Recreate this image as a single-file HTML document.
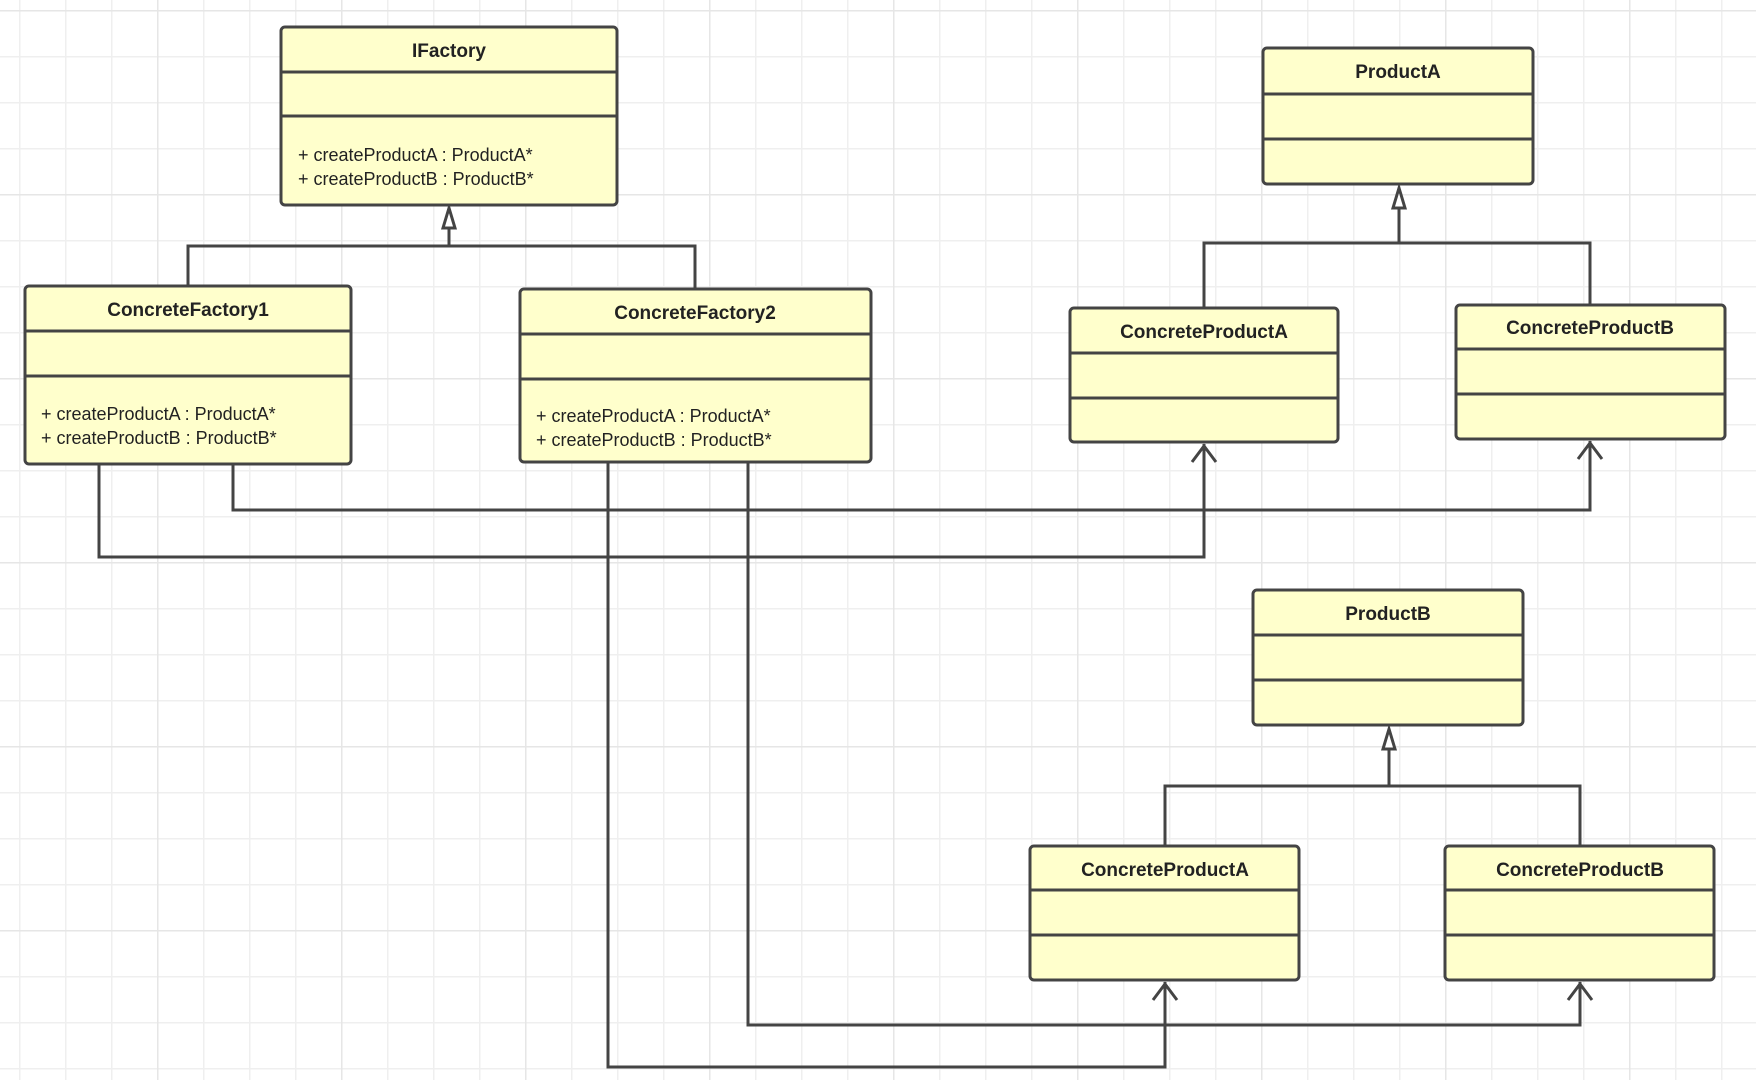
<!DOCTYPE html>
<html><head><meta charset="utf-8"><style>
html,body{margin:0;padding:0;background:#fff}
svg{display:block}
text{font-family:"Liberation Sans",sans-serif;fill:#222}
.t{font-weight:bold;font-size:19px;text-anchor:middle}
.m{font-size:18px}
</style></head><body>
<svg width="1756" height="1080" viewBox="0 0 1756 1080" xmlns="http://www.w3.org/2000/svg">
<defs>
<pattern id="g" x="19" y="10" width="46" height="46" patternUnits="userSpaceOnUse">
<path d="M0 0V46M0 0H46" stroke="#efefef" stroke-width="3" fill="none"/>
</pattern>
<pattern id="G" x="157" y="10" width="184" height="184" patternUnits="userSpaceOnUse">
<path d="M0 0V184M0 0H184" stroke="#e6e6e6" stroke-width="3" fill="none"/>
</pattern>
</defs>
<rect width="1756" height="1080" fill="url(#g)"/>
<rect width="1756" height="1080" fill="url(#G)"/>
<g stroke="#444" stroke-width="3" fill="none">
<!-- inheritance -->
<path d="M188 286V246H695V289M449 246V210"/>
<path d="M1204 308V243H1590V305M1399 243V191"/>
<path d="M1165 846V786H1580V846M1389 786V732"/>
<!-- dependencies -->
<path d="M99 464V557H1204V444"/>
<path d="M233 464V510H1590V441"/>
<path d="M608 462V1067H1165V982"/>
<path d="M748 462V1025H1580V982"/>
<path d="M1192 462L1204 446L1216 462M1578 459L1590 443L1602 459M1153 1000L1165 984L1177 1000M1568 1000L1580 984L1592 1000"/>
</g>
<g stroke="#444" stroke-width="3" fill="#fff">
<path d="M449 208L443 228H455Z"/>
<path d="M1399 188L1393 208H1405Z"/>
<path d="M1389 729L1383 749H1395Z"/>
</g>
<g stroke="#444" stroke-width="3" fill="#ffffcc">
<rect x="281" y="27" width="336" height="178" rx="4"/>
<rect x="25" y="286" width="326" height="178" rx="4"/>
<rect x="520" y="289" width="351" height="173" rx="4"/>
<rect x="1263" y="48" width="270" height="136" rx="4"/>
<rect x="1070" y="308" width="268" height="134" rx="4"/>
<rect x="1456" y="305" width="269" height="134" rx="4"/>
<rect x="1253" y="590" width="270" height="135" rx="4"/>
<rect x="1030" y="846" width="269" height="134" rx="4"/>
<rect x="1445" y="846" width="269" height="134" rx="4"/>
</g>
<g stroke="#444" stroke-width="3">
<path d="M281 72H617M281 116H617"/>
<path d="M25 331H351M25 376H351"/>
<path d="M520 334H871M520 379H871"/>
<path d="M1263 94H1533M1263 139H1533"/>
<path d="M1070 353H1338M1070 398H1338"/>
<path d="M1456 349H1725M1456 394H1725"/>
<path d="M1253 635H1523M1253 680H1523"/>
<path d="M1030 890H1299M1030 935H1299"/>
<path d="M1445 890H1714M1445 935H1714"/>
</g>
<text class="t" x="449" y="57">IFactory</text>
<text class="m" x="298" y="161">+ createProductA : ProductA*</text>
<text class="m" x="298" y="185">+ createProductB : ProductB*</text>
<text class="t" x="188" y="316">ConcreteFactory1</text>
<text class="m" x="41" y="420">+ createProductA : ProductA*</text>
<text class="m" x="41" y="444">+ createProductB  :  ProductB*</text>
<text class="t" x="695" y="319">ConcreteFactory2</text>
<text class="m" x="536" y="422">+ createProductA : ProductA*</text>
<text class="m" x="536" y="446">+ createProductB  :  ProductB*</text>
<text class="t" x="1398" y="78">ProductA</text>
<text class="t" x="1204" y="338">ConcreteProductA</text>
<text class="t" x="1590" y="334">ConcreteProductB</text>
<text class="t" x="1388" y="620">ProductB</text>
<text class="t" x="1165" y="876">ConcreteProductA</text>
<text class="t" x="1580" y="876">ConcreteProductB</text>
</svg>
</body></html>
